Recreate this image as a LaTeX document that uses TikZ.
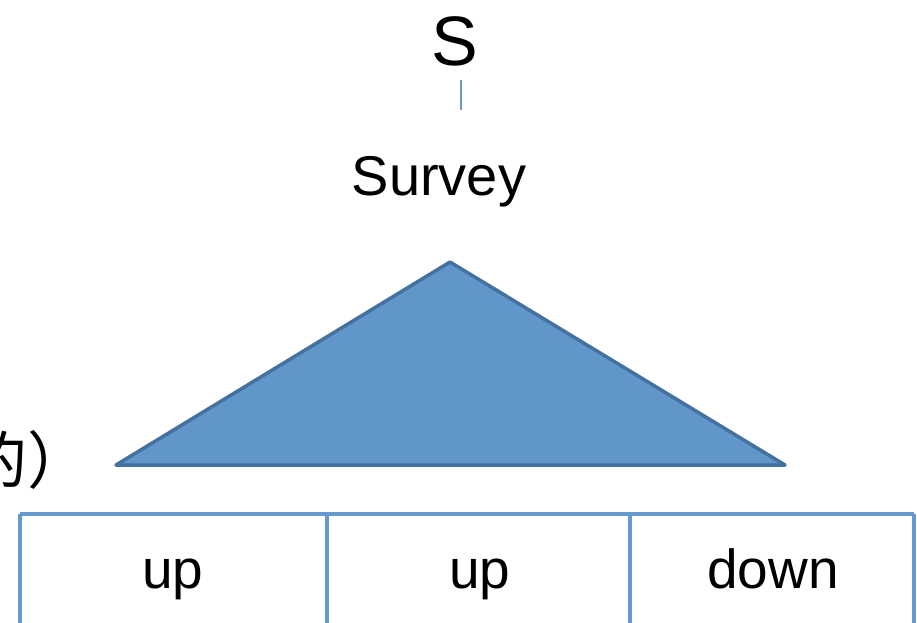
\documentclass[tikz,border=0pt]{standalone}
\usepackage{fontspec}
\setmainfont{Liberation Sans}
\newfontfamily\cjkfont{Noto Sans CJK JP}
\definecolor{tfill}{HTML}{6096C9}
\definecolor{tedge}{HTML}{45719F}
\definecolor{lineblue}{HTML}{6699CF}
\begin{document}
\begin{tikzpicture}[x=1pt,y=-1pt,
  lbl/.style={inner sep=0pt, anchor=base, text=black},
  cell/.style={draw=lineblue, line width=3.5pt}]
\useasboundingbox (0,0) rectangle (917,622);
\clip (0,0) rectangle (917,622);
\node[lbl, font=\fontsize{70}{70}\selectfont] (s) at (455,65) {S};
\coordinate (st) at (461,80);
\coordinate (sb) at (461,110);
\draw[lineblue, line width=1.2pt] (st) -- (sb);
\node[lbl, font=\fontsize{56}{56}\selectfont] (survey) at (439,195) {Survey};
\coordinate (apex) at (450,262);
\coordinate (bl) at (116,465);
\coordinate (br) at (785,465);
\draw[fill=tfill, draw=tedge, line width=3.5pt, line join=round] (apex) -- (bl) -- (br) -- cycle;
\node[inner sep=0pt, anchor=base west, font=\cjkfont\fontsize{62}{62}\selectfont] (jp) at (-35,483) {的）};
\draw[cell] (20,514) -- (914,514);
\draw[cell] (20,514) -- (20,630);
\draw[cell] (327,514) -- (327,630);
\draw[cell] (630,514) -- (630,630);
\draw[cell] (914,514) -- (914,630);
\node[lbl, font=\fontsize{55}{55}\selectfont] (c1) at (173,588) {up};
\node[lbl, font=\fontsize{55}{55}\selectfont] (c2) at (480,588) {up};
\node[lbl, font=\fontsize{55}{55}\selectfont] (c3) at (773,588) {down};
\end{tikzpicture}
\end{document}
